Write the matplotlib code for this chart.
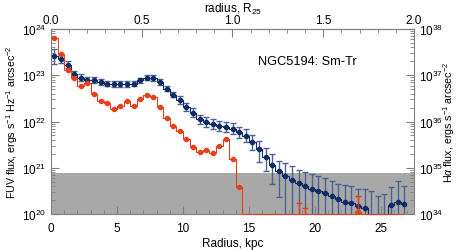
import numpy as np
import matplotlib
matplotlib.use("Agg")
import matplotlib.pyplot as plt
from matplotlib.ticker import MultipleLocator, FixedLocator, LogLocator, NullFormatter

plt.rcParams['font.family'] = ['Liberation Sans', 'DejaVu Sans']
plt.rcParams['mathtext.fontset'] = 'custom'
plt.rcParams['mathtext.rm'] = 'Liberation Sans'
plt.rcParams['mathtext.it'] = 'Liberation Sans:italic'

# radial bins, kpc (0.5 kpc wide)
radius = np.arange(54) * 0.5 + 0.25

# FUV profile, log10 ergs s^-1 Hz^-1 arcsec^-2 (nan = below plot floor)
fuv_log = [23.41, 23.35, 23.23, 23.03, 22.95, 22.90, 22.90, 22.85, 22.82, 22.81,
           22.81, 22.81, 22.82, 22.89, 22.95, 22.94, 22.85, 22.71, 22.58, 22.46,
           22.31, 22.19, 22.05, 21.99, 21.94, 21.91, 21.89, 21.84, 21.77, 21.69,
           21.55, 21.40, 21.23, 21.07, 20.92, 20.83, 20.74, 20.66, 20.61, 20.54,
           20.50, 20.45, 20.38, 20.32, 20.25, 20.23, 20.17, 20.12, np.nan, np.nan,
           np.nan, 20.19, 20.27, 20.22]
# top / bottom ends of the FUV error bars (nan bottom = runs off the floor)
fuv_hi = [23.57, 23.44, 23.31, 23.10, 23.02, 22.97, 22.96, 22.91, 22.88, 22.87,
          22.87, 22.87, 22.88, 22.95, 23.01, 23.00, 22.91, 22.77, 22.64, 22.55,
          22.39, 22.29, 22.15, 22.09, 22.05, 22.02, 22.00, 21.96, 21.89, 21.83,
          21.70, 21.58, 21.43, 21.29, 21.15, 21.10, 21.03, 20.96, 20.90, 20.86,
          20.83, 20.78, 20.72, 20.65, 20.63, 20.61, 20.54, 20.53, 20.50, 20.38,
          20.43, 20.58, 20.72, 20.61]
fuv_lo = [23.24, 23.27, 23.15, 22.96, 22.88, 22.83, 22.84, 22.79, 22.76, 22.75,
          22.75, 22.75, 22.76, 22.83, 22.89, 22.88, 22.79, 22.65, 22.52, 22.37,
          22.23, 22.09, 21.95, 21.89, 21.83, 21.80, 21.77, 21.72, 21.64, 21.55,
          21.38, 21.12, 20.93, 20.65, 20.37] + [np.nan] * 19

# H-alpha profile, log10 ergs s^-1 arcsec^-2 minus 14 (plotted on FUV scale)
ha_log = [23.81, 23.45, 23.12, 22.93, 22.77, 22.83, 22.60, 22.45, 22.39, 22.27,
          22.34, 22.44, 22.34, 22.49, 22.58, 22.52, 22.31, 22.08, 21.90, 21.80,
          21.63, 21.44, 21.33, 21.38, 21.32, 21.47, 21.63, 21.20, 20.58] + [np.nan] * 25
ha_log[46] = 20.04
ha_err_idx = [37, 38, 46]
ha_err_hi = [20.24, 20.14, 20.40]

r25_ticks = [0.0, 0.5, 1.0, 1.5, 2.0]

floor = 1e20
sky_level = 7.8e20

navy = '#0f2c66'
bar_col = '#4a6393'
red = '#e8401c'
grey = '#808080'

fig = plt.figure(figsize=(4.58, 2.51), dpi=100)
ax = fig.add_axes([51 / 458, 1 - 215 / 251, 363 / 458, 185 / 251])
ax.set_yscale('log')
ax.set_xlim(0, 27.5)
ax.set_ylim(floor, 1e24)

ax.axhspan(floor, sky_level, color='#a8a8a8', lw=0, zorder=0)

fuv = 10 ** np.array(fuv_log)
hi = 10 ** np.array(fuv_hi)
lo = 10 ** np.array(fuv_lo)
lo = np.where(np.isnan(lo), 1e10, lo)
ax.vlines(radius, lo, hi, color=bar_col, lw=1.0, zorder=2)
ax.plot(radius, hi, ls='none', marker='_', ms=5, mew=1.0, color=bar_col, zorder=2)
ax.plot(radius, lo, ls='none', marker='_', ms=5, mew=1.0, color=bar_col, zorder=2)
ax.step(radius, np.where(np.isnan(fuv), floor, fuv), where='mid', color=navy,
        lw=0.8, zorder=3, clip_on=False)
ax.plot(radius, fuv, ls='none', marker='o', ms=3, color=navy, zorder=4)

ha = 10 ** np.array(ha_log)
r_err = radius[ha_err_idx]
ax.vlines(r_err, 1e10, 10 ** np.array(ha_err_hi), color=red, lw=1.0, zorder=5)
ax.plot(r_err, 10 ** np.array(ha_err_hi), ls='none', marker='_', ms=5, mew=1.0,
        color=red, zorder=5)
ax.step(radius, np.where(np.isnan(ha), floor, ha), where='mid', color=red,
        lw=0.8, zorder=5, clip_on=False)
ax.plot(radius, ha, ls='none', marker='o', ms=3, color=red, zorder=6)

ax.text(0.705, 0.827, 'NGC5194: Sm-Tr', transform=ax.transAxes, fontsize=9.2,
        ha='center', va='center')

for s in ax.spines.values():
    s.set_color(grey)
    s.set_linewidth(0.8)

ax.xaxis.set_major_locator(MultipleLocator(5))
ax.xaxis.set_minor_locator(MultipleLocator(1))
ax.yaxis.set_major_locator(LogLocator(base=10, numticks=10))
ax.yaxis.set_minor_locator(LogLocator(base=10, subs=np.arange(2, 10), numticks=10))
ax.yaxis.set_minor_formatter(NullFormatter())
ax.tick_params(which='both', direction='in', color=grey, labelsize=8.5,
               top=False, right=False)
ax.tick_params(which='major', length=6, width=0.8)
ax.tick_params(which='minor', length=3, width=0.6)
ax.tick_params(axis='x', pad=6)
ax.set_xlabel('Radius, kpc', fontsize=8.5, labelpad=2)

# top axis in units of R25
r25 = 13.75
top = ax.secondary_xaxis('top', functions=(lambda x: x / r25, lambda x: x * r25))
top.xaxis.set_major_locator(FixedLocator(r25_ticks))
top.xaxis.set_minor_locator(FixedLocator(np.arange(1, 20) * 0.1))
top.xaxis.set_major_formatter(plt.FormatStrFormatter('%.1f'))
top.tick_params(which='both', direction='in', color=grey, labelsize=8.5, pad=2)
top.tick_params(which='major', length=6, width=0.8)
top.tick_params(which='minor', length=3, width=0.6)
top.set_xlabel('radius, R$_{25}$', fontsize=8.5, labelpad=2)
top.spines['top'].set_color(grey)

# right axis for H-alpha
rax = ax.twinx()
rax.set_yscale('log')
rax.set_ylim(1e34, 1e38)
rax.yaxis.set_major_locator(LogLocator(base=10, numticks=10))
rax.yaxis.set_minor_locator(LogLocator(base=10, subs=np.arange(2, 10), numticks=10))
rax.yaxis.set_minor_formatter(NullFormatter())
rax.tick_params(which='both', direction='in', color=grey, labelsize=8.5)
rax.tick_params(which='major', length=6, width=0.8)
rax.tick_params(which='minor', length=3, width=0.6)
for s in rax.spines.values():
    s.set_visible(False)

# axis titles placed in figure pixels
yc = 1 - 122 / 251
fig.text(12 / 458, yc, 'FUV flux, ergs s$^{-1}$ Hz$^{-1}$ arcsec$^{-2}$',
         rotation=90, ha='center', va='center', fontsize=7.7)
fig.text(449 / 458, yc, r'H$\alpha$ flux, ergs s$^{-1}$ arcsec$^{-2}$',
         rotation=90, ha='center', va='center', fontsize=7.7)

fig.savefig('out.png', dpi=100)
